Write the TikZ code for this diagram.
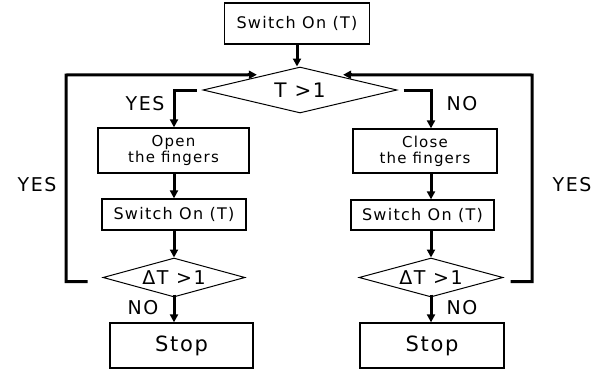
\documentclass[tikz,border=0pt]{standalone}
\usepackage{fontspec}
\setmainfont[LetterSpace=8]{DejaVu Sans}
\usetikzlibrary{shapes.geometric,arrows.meta,calc}
\begin{document}
\begin{tikzpicture}[x=1pt,y=-1pt,
  box/.style={draw,line width=1.3pt,inner sep=0pt,align=center},
  dia/.style={draw,diamond,line width=1pt,inner sep=0pt},
  arr/.style={line width=3pt,-{Triangle[length=8pt,width=8pt]}},
  lbl/.style={font=\fontsize{19}{19}\selectfont}]
\useasboundingbox (0,0) rectangle (604,369);
% top
\node[box,minimum width=145,minimum height=41,font=\fontsize{16}{16}\selectfont] (top) at (297,23.5) {Switch On (T)};
\node[dia,aspect=4.2,minimum width=194,minimum height=46,font=\fontsize{20}{20}\selectfont] (d1) at (300,90) {T >1};
% left column
\node[box,minimum width=151,minimum height=45,font=\fontsize{15}{16}\selectfont] (b1) at (173.5,150.5) {Open\\the fingers};
\node[box,minimum width=144,minimum height=31,font=\fontsize{16}{16}\selectfont] (b2) at (174,214.5) {Switch On (T)};
\node[dia,aspect=3.6,minimum width=142,minimum height=39,font=\fontsize{19}{19}\selectfont] (d2) at (174,277.5) {ΔT >1};
\node[box,minimum width=143,minimum height=45,font=\fontsize{21}{21}\selectfont] (s1) at (181.5,345.5) {Stop};
% right column
\node[box,minimum width=144,minimum height=44,font=\fontsize{15}{16}\selectfont] (b3) at (425,151) {Close\\the fingers};
\node[box,minimum width=143,minimum height=30,font=\fontsize{16}{16}\selectfont] (b4) at (422.5,215) {Switch On (T)};
\node[dia,aspect=3.6,minimum width=144,minimum height=39,font=\fontsize{19}{19}\selectfont] (d3) at (431,277.5) {ΔT >1};
\node[box,minimum width=144,minimum height=45,font=\fontsize{21}{21}\selectfont] (s2) at (432,345.5) {Stop};
% loop corners
\coordinate (lc) at (66,75);
\coordinate (rc) at (532,75);
\coordinate (tl) at ($(d1.north)!0.35!(d1.west)$);
\coordinate (tr) at ($(d1.north)!0.35!(d1.east)$);
% connectors
\draw[arr] (top.south) -- (top.south |- d1.north);
\draw[arr] ([xshift=-6]d1.west) -| (b1.north -| d2.north);
\draw[arr] ([xshift=6]d1.east) -| (b3.north -| d3.north);
\draw[arr] (b1.south -| d2.north) -- (b2.north -| d2.north);
\draw[arr] (b2.south -| d2.north) -- (d2.north);
\draw[arr] (b3.south -| d3.north) -- (b4.north -| d3.north);
\draw[arr] (b4.south -| d3.north) -- (d3.north);
\draw[arr] ([yshift=3]d2.south) -- (s1.north -| d2.south);
\draw[arr] ([yshift=3]d3.south) -- (s2.north -| d3.south);
\draw[arr,shorten >=9pt] ([xshift=-15,yshift=-4]d2.west) -| (lc) -- (tl);
\draw[arr,shorten >=9pt] ([xshift=7,yshift=-4]d3.east) -| (rc) -- (tr);
% labels
\node[lbl] (y1) at (145,104) {YES};
\node[lbl] (n1) at (462,104) {NO};
\node[lbl] (y2) at (37,185) {YES};
\node[lbl] (y3) at (572,185) {YES};
\node[lbl] (n2) at (143,308) {NO};
\node[lbl] (n3) at (462,308) {NO};
\end{tikzpicture}
\end{document}
